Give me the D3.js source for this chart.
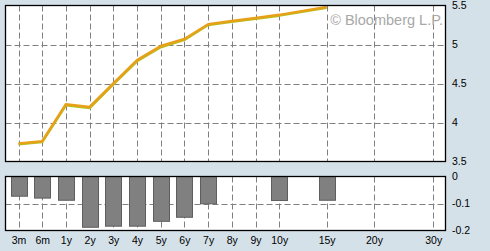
<!DOCTYPE html>
<html><head><meta charset="utf-8">
<script src="https://cdn.jsdelivr.net/npm/d3@7"></script>
<style>html,body{margin:0;padding:0;background:#d5e1e9;}svg{display:block;}</style>
</head><body>
<svg id="c" width="490" height="251"></svg>
<script>
// Data
const tenors = ["3m","6m","1y","2y","3y","4y","5y","6y","7y","8y","9y","10y","15y","20y","30y"];
const tenorSlots = [0,1,2,3,4,5,6,7,8,9,10,11,13,15,17.5];
const currentYield = [3.73,3.76,4.235,4.20,4.50,4.80,4.98,5.07,5.26,5.30,5.34,5.38,5.48,null,null];
const priorYield   = [3.72,3.75,4.22,4.185,4.49,4.785,4.965,5.06,5.25,5.29,5.33,5.37,5.47,null,null];
const change = [-0.073,-0.080,-0.088,-0.188,-0.184,-0.184,-0.166,-0.151,-0.101,null,null,-0.089,-0.088,null,null];
const yTicks = [3.5,4,4.5,5,5.5];
const cTicks = [0,-0.1,-0.2];

const svg = d3.select("#c");
const L = 5.5, R = 445.5, T1 = 5.5, B1 = 161.5, T2 = 176.5, B2 = 230.5;
const x = d3.scaleLinear().domain([0,11]).range([18.5,279.2]);
const y = d3.scaleLinear().domain([3.5,5.5]).range([B1,T1]);
const yc = d3.scaleLinear().domain([-0.2,0]).range([B2,T2]);
const font = "Liberation Sans, Arial, sans-serif";

// panels
svg.append("rect").attr("x",L).attr("y",T1).attr("width",R-L).attr("height",B1-T1).attr("fill","#fff");
svg.append("rect").attr("x",L).attr("y",T2).attr("width",R-L).attr("height",B2-T2).attr("fill","#fff");

const grid = svg.append("g").attr("stroke","#808080").attr("stroke-dasharray","6,3").attr("stroke-width",1);
tenorSlots.forEach(s=>{
  const xx = Math.round(x(s))+0.5;
  grid.append("line").attr("x1",xx).attr("x2",xx).attr("y1",T1).attr("y2",B1);
  grid.append("line").attr("x1",xx).attr("x2",xx).attr("y1",T2).attr("y2",B2);
});
yTicks.slice(1,-1).forEach(v=>{
  const yy = Math.round(y(v))+0.5;
  grid.append("line").attr("x1",L).attr("x2",R).attr("y1",yy).attr("y2",yy);
});
cTicks.slice(1,-1).forEach(v=>{
  const yy = Math.round(yc(v))+0.5;
  grid.append("line").attr("x1",L).attr("x2",R).attr("y1",yy).attr("y2",yy);
});

// watermark
svg.append("text").attr("x",443).attr("y",25).attr("text-anchor","end")
  .attr("font-family",font).attr("font-size",14.5).attr("fill","#a8a8a8").text("© Bloomberg L.P.");

// lines
const line = d3.line().defined(d=>d[1]!=null).x(d=>x(d[0])).y(d=>y(d[1]));
svg.append("path").datum(tenorSlots.map((s,i)=>[s,priorYield[i]]))
  .attr("d",line).attr("fill","none").attr("stroke","#b4c020").attr("stroke-width",2.5).attr("stroke-linejoin","round");
svg.append("path").datum(tenorSlots.map((s,i)=>[s,currentYield[i]]))
  .attr("d",line).attr("fill","none").attr("stroke","#e8a018").attr("stroke-width",2.5).attr("stroke-linejoin","round");

// bars
const bw = 16;
svg.append("g").selectAll("rect").data(tenorSlots.map((s,i)=>[s,change[i]]).filter(d=>d[1]!=null))
  .join("rect")
  .attr("x",d=>Math.round(x(d[0])-bw/2)+0.5).attr("width",bw)
  .attr("y",yc(0)).attr("height",d=>yc(d[1])-yc(0))
  .attr("fill","#808080").attr("stroke","#5e5e5e").attr("stroke-width",1);

// frames
svg.append("rect").attr("x",L).attr("y",T1).attr("width",R-L).attr("height",B1-T1).attr("fill","none").attr("stroke","#000").attr("stroke-width",1.3);
svg.append("rect").attr("x",L).attr("y",T2).attr("width",R-L).attr("height",B2-T2).attr("fill","none").attr("stroke","#000").attr("stroke-width",1.3);

// axes labels
const fmt = d=>String(d);
svg.append("g").selectAll("text").data(yTicks).join("text")
  .attr("x",452).attr("y",d=>y(d)+3.5).attr("font-family",font).attr("font-size",10.5).attr("fill","#000").text(fmt);
svg.append("g").selectAll("text").data(cTicks).join("text")
  .attr("x",452).attr("y",d=>yc(d)+3.5).attr("font-family",font).attr("font-size",10.5).attr("fill","#000").text(fmt);
svg.append("g").selectAll("text").data(tenors).join("text")
  .attr("x",(d,i)=>x(tenorSlots[i])+0.5).attr("y",244).attr("text-anchor","middle")
  .attr("font-family",font).attr("font-size",10.5).attr("fill","#000").text(d=>d);
</script>
</body></html>
